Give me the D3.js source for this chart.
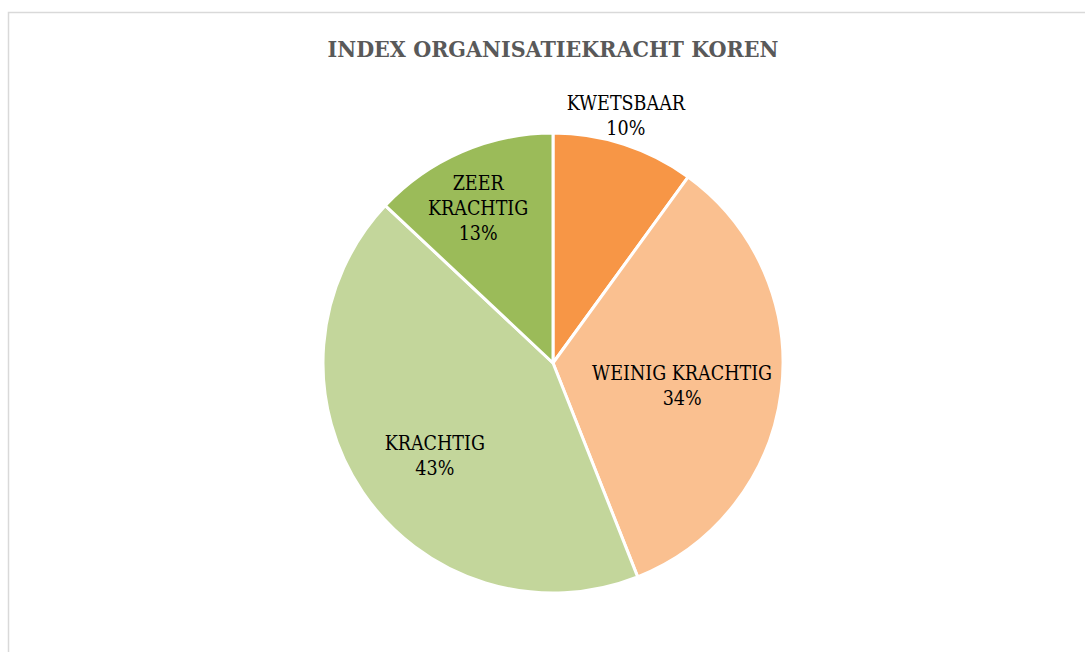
<!DOCTYPE html>
<html>
<head>
<meta charset="utf-8">
<script src="https://cdn.jsdelivr.net/npm/d3@7"></script>
<style>
  body { margin: 0; background: #fff; }
  svg { display: block; }
</style>
</head>
<body>
<svg id="chart" width="1085" height="652"></svg>
<script>
// data
let categories = ['KWETSBAAR', 'WEINIG KRACHTIG', 'KRACHTIG', 'ZEER KRACHTIG'];
let values = [10, 34, 43, 13];
let labelLines = [['KWETSBAAR'], ['WEINIG KRACHTIG'], ['KRACHTIG'], ['ZEER', 'KRACHTIG']];
let colors = ['#F79646', '#FAC090', '#C3D69B', '#9BBB59'];

// best-fit label placement: distance from centre and nudge off the mid angle (degrees)
let labelRadius = [258, 131, 150, 172];
let labelNudge = [-1.6, 2.5, -3.8, -2.4];

let width = 1085;
let height = 652;
let cx = 553;
let cy = 363;
let radius = 230;

let fontFam = '"DejaVu Serif Condensed", "DejaVu Serif", serif';

let svg = d3.select('#chart');

// frame, clipped at right/bottom like the screenshot
svg.append('rect')
  .attr('x', 8.5)
  .attr('y', 12.5)
  .attr('width', 1090)
  .attr('height', 700)
  .style('fill', 'none')
  .style('stroke', '#D9D9D9')
  .style('stroke-width', '1.5px');

svg.append('text')
  .attr('x', cx)
  .attr('y', 57)
  .attr('text-anchor', 'middle')
  .style('font-family', fontFam)
  .style('font-weight', 'bold')
  .style('font-size', '23px')
  .style('fill', '#595959')
  .text('INDEX ORGANISATIEKRACHT KOREN');

let total = d3.sum(values);
let pie = d3.pie().sort(null).value(d => d);
let arcs = pie(values);

let arc = d3.arc().innerRadius(0).outerRadius(radius);

let g = svg.append('g').attr('transform', `translate(${cx},${cy})`);

g.selectAll('path.slice')
  .data(arcs)
  .enter()
  .append('path')
  .attr('class', 'slice')
  .attr('d', arc)
  .style('fill', (d, i) => colors[i])
  .style('stroke', '#fff')
  .style('stroke-width', '3px')
  .style('stroke-linejoin', 'round');

let lineH = 25;

g.selectAll('text.lbl')
  .data(arcs)
  .enter()
  .append('text')
  .attr('class', 'lbl')
  .attr('text-anchor', 'middle')
  .style('font-family', fontFam)
  .style('font-size', '19.5px')
  .style('fill', '#000')
  .each(function(d, i) {
    let mid = (d.startAngle + d.endAngle) / 2 + labelNudge[i] * Math.PI / 180;
    let x = Math.sin(mid) * labelRadius[i];
    let y = -Math.cos(mid) * labelRadius[i];
    let lines = labelLines[i].concat([Math.round(values[i] / total * 100) + '%']);
    let y0 = y - (lines.length - 1) * lineH / 2 + 7;
    let t = d3.select(this);
    lines.forEach((ln, j) => {
      t.append('tspan')
        .attr('x', x)
        .attr('y', y0 + j * lineH)
        .text(ln);
    });
  });
</script>
</body>
</html>
